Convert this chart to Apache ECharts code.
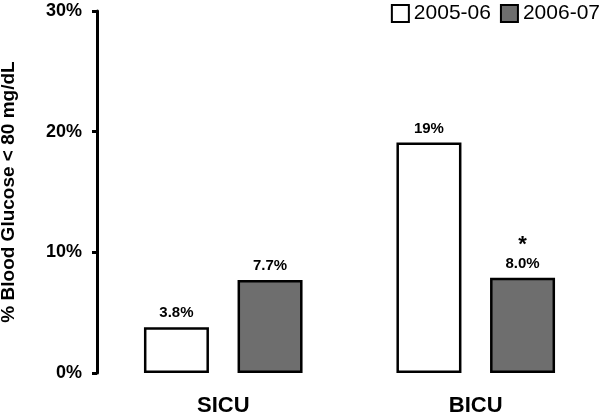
<!DOCTYPE html>
<html>
<head>
<meta charset="utf-8">
<script src="https://cdn.jsdelivr.net/npm/echarts@6/dist/echarts.min.js"></script>
<style>html,body{margin:0;padding:0;background:#fff;}#c{width:600px;height:415px;}</style>
</head>
<body>
<div id="c"></div>
<script>
const categories = ['SICU', 'BICU'];
const seriesNames = ['2005-06', '2006-07'];
const values2005 = [3.8, 19.1];
const values2006 = [7.7, 7.9];
const labels2005 = ['3.8%', '19%'];
const labels2006 = ['7.7%', '8.0%'];
const marks2006 = ['', '*'];
const yTicks = [0, 10, 20, 30];

const FONT = 'Liberation Sans, Arial, sans-serif';
const chart = echarts.init(document.getElementById('c'));

function mk(vals, labs, marks) {
  return vals.map((v, i) => ({
    value: v,
    label: {
      formatter: (marks && marks[i]) ? '{s|' + marks[i] + '}\n{v|' + labs[i] + '}' : '{v|' + labs[i] + '}'
    }
  }));
}

const labelCfg = {
  show: true,
  position: 'top',
  distance: 6,
  rich: {
    v: { fontFamily: FONT, fontWeight: 'bold', fontSize: 15, color: '#000', lineHeight: 16 },
    s: { fontFamily: FONT, fontWeight: 'bold', fontSize: 22, color: '#000', lineHeight: 22 }
  }
};

chart.setOption({
  animation: false,
  backgroundColor: '#fff',
  legend: {
    top: 3,
    right: 0,
    padding: 0,
    itemWidth: 17,
    itemHeight: 17,
    itemGap: 9,
    icon: 'rect',
    textStyle: { fontFamily: FONT, fontSize: 21, color: '#000' },
    data: seriesNames
  },
  grid: { left: 97, top: 11, width: 505, bottom: 42, containLabel: false, outerBoundsMode: 'none' },
  xAxis: {
    type: 'category',
    data: categories,
    axisLine: { show: false },
    axisTick: { show: false },
    axisLabel: { fontFamily: FONT, fontWeight: 'bold', fontSize: 22, color: '#000', margin: 22 }
  },
  yAxis: {
    type: 'value',
    min: yTicks[0],
    max: yTicks[yTicks.length - 1],
    interval: 10,
    name: '% Blood Glucose < 80 mg/dL',
    nameLocation: 'middle',
    nameGap: 79,
    nameTextStyle: { fontFamily: FONT, fontWeight: 'bold', fontSize: 19, color: '#000' },
    axisLine: { show: true, lineStyle: { color: '#000', width: 3 } },
    axisTick: { show: true, length: 5, lineStyle: { color: '#000', width: 3 } },
    splitLine: { show: false },
    axisLabel: { formatter: '{value}%', fontFamily: FONT, fontWeight: 'bold', fontSize: 18, color: '#000', margin: 15 }
  },
  series: [
    {
      name: seriesNames[0], type: 'bar', barWidth: 65, barGap: '44%',
      itemStyle: { color: '#ffffff', borderColor: '#000', borderWidth: 2.5 },
      label: labelCfg,
      data: mk(values2005, labels2005, null)
    },
    {
      name: seriesNames[1], type: 'bar', barWidth: 65, barGap: '44%',
      itemStyle: { color: '#6e6e6e', borderColor: '#000', borderWidth: 2.5 },
      label: labelCfg,
      data: mk(values2006, labels2006, marks2006)
    }
  ]
});
</script>
</body>
</html>
